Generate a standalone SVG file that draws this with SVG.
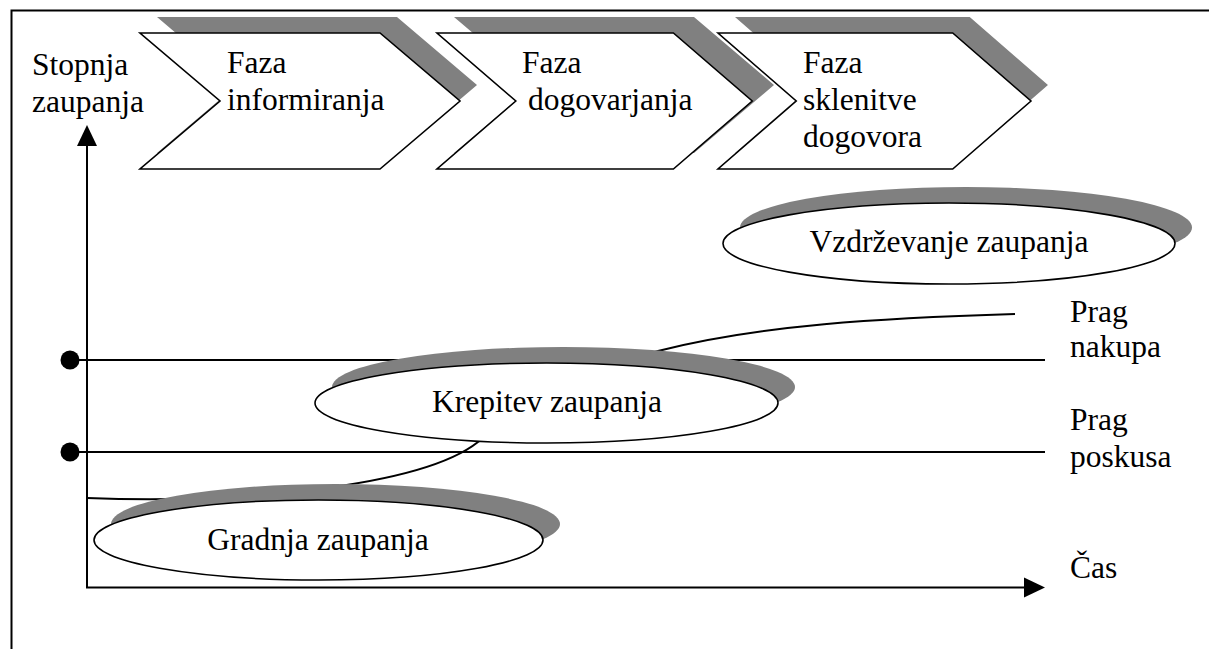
<svg xmlns="http://www.w3.org/2000/svg" width="1209" height="649" viewBox="0 0 1209 649">
<style>
text{font-family:"Liberation Serif","Times New Roman",serif;font-size:31.5px;fill:#000}
.sh{fill:#808080;stroke:none}
.shape{fill:#fff;stroke:#000;stroke-width:1.6}
.ln{fill:none;stroke:#000;stroke-width:2}
.mid{text-anchor:middle}
</style>
<defs>
<path id="chev" d="M0,0 L240,0 L320,68 L240,136 L0,136 L80,68 Z"/>
</defs>
<rect width="1209" height="649" fill="#fff"/>
<path class="ln" d="M11.5,649 L11.5,10.5 L1209,10.5"/>

<g id="connectors">
<path class="ln" d="M87,588 L87,145"/>
<polygon points="87,125 77,146 97,146"/>
<path class="ln" d="M86,587.5 L1025,587.5"/>
<polygon points="1045,587.5 1024,577.5 1024,597.5"/>
<path class="ln" d="M70,360 L1045,360"/>
<circle cx="70" cy="360" r="9.5"/>
<path class="ln" d="M70,452 L1045,452"/>
<circle cx="70" cy="452" r="9.5"/>
<path class="ln" d="M87,498 C230,504 420,488 478,442 C530,410 590,370 658,351 C760,325 880,318 1015,314"/>
</g>

<g id="phase1">
<use href="#chev" x="157" y="17" class="sh"/>
<use href="#chev" x="140" y="33" class="shape"/>
<text x="227" y="73">Faza</text>
<text x="227" y="110">informiranja</text>
</g>
<g id="phase2">
<use href="#chev" x="454" y="17" class="sh"/>
<use href="#chev" x="437" y="33" class="shape" transform="translate(437 33) scale(0.985 1) translate(-437 -33)"/>
<text x="522" y="73">Faza</text>
<text x="528" y="110">dogovarjanja</text>
</g>
<g id="phase3">
<use href="#chev" x="735" y="17" class="sh" transform="translate(735 17) scale(0.978 1) translate(-735 -17)"/>
<use href="#chev" x="718" y="33" class="shape" transform="translate(718 33) scale(0.978 1) translate(-718 -33)"/>
<text x="803" y="73">Faza</text>
<text x="803" y="110">sklenitve</text>
<text x="803" y="147">dogovora</text>
</g>

<g id="stopnja">
<text x="32" y="75">Stopnja</text>
<text x="32" y="112">zaupanja</text>
</g>

<g id="vzdrzevanje">
<ellipse class="sh" cx="966" cy="227.5" rx="226" ry="40.5"/>
<ellipse class="shape" cx="949" cy="243.5" rx="226" ry="40.5"/>
<text class="mid" x="949" y="252">Vzdrževanje zaupanja</text>
</g>
<g id="krepitev">
<ellipse class="sh" cx="563.5" cy="387" rx="231.5" ry="40"/>
<ellipse class="shape" cx="546.5" cy="403" rx="231.5" ry="40"/>
<text class="mid" x="547" y="412">Krepitev zaupanja</text>
</g>
<g id="gradnja">
<ellipse class="sh" cx="335.5" cy="524" rx="224.5" ry="40"/>
<ellipse class="shape" cx="318.5" cy="540" rx="224.5" ry="40"/>
<text class="mid" x="318" y="550">Gradnja zaupanja</text>
</g>

<g id="labels">
<text x="1070" y="322">Prag</text>
<text x="1070" y="357">nakupa</text>
<text x="1070" y="430">Prag</text>
<text x="1070" y="467">poskusa</text>
<text x="1070" y="578">Čas</text>
</g>
</svg>
